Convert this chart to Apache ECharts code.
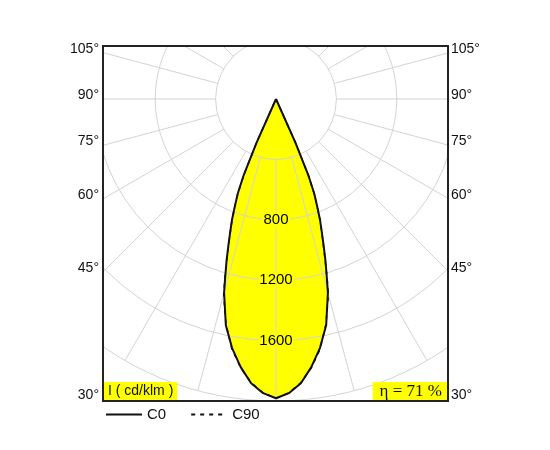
<!DOCTYPE html>
<html><head><meta charset="utf-8">
<script src="https://cdn.jsdelivr.net/npm/echarts@6/dist/echarts.min.js"></script>
<style>html,body{margin:0;padding:0;background:#fff}#c{width:550px;height:450px}</style>
</head><body><div id="c"></div>
<script>
// gamma angles (deg from nadir) for one half of the curve
const gammaAngles = [0, 2.5, 5, 7.5, 10, 12.5, 15, 16, 17, 18, 19, 20, 21, 22, 23, 24, 25];
// intensities in cd/klm
const c0Values  = [1982, 1950, 1890, 1791, 1675, 1535, 1328, 1218, 1120, 1021, 932, 853, 760, 677, 547, 318, 0];
const c90Values = [1982, 1948, 1886, 1795, 1682, 1528, 1340, 1226, 1112, 1015, 928, 850, 758, 672, 540, 312, 0];
const radiusTicks = [400, 800, 1200, 1600, 2000];
const radiusLabelTicks = [800, 1200, 1600];
const sideAngles = [105, 90, 75, 60, 45, 30];
const legendNames = ['C0', 'C90'];
const unitText = 'I ( cd/klm )';
const etaText = 'η = 71 %';

function curve(vals) {
  const pts = [];
  for (let i = gammaAngles.length - 1; i >= 0; i--) pts.push([vals[i], -gammaAngles[i]]);
  for (let i = 1; i < gammaAngles.length; i++) pts.push([vals[i], gammaAngles[i]]);
  return pts;
}

const CX = 276, CY = 99, R = 302;
const BOX = {x1: 103, y1: 46, x2: 448, y2: 401};
const FONT = '"Liberation Sans", Arial, sans-serif';
const rMin = R * radiusTicks[0] / radiusTicks[radiusTicks.length - 1];

const graphics = [
  {type: 'rect', shape: {x: 0, y: 0, width: 550, height: BOX.y1}, style: {fill: '#fff'}, z: 100, silent: true},
  {type: 'rect', shape: {x: 0, y: BOX.y2, width: 550, height: 450 - BOX.y2}, style: {fill: '#fff'}, z: 100, silent: true},
  {type: 'rect', shape: {x: 0, y: 0, width: BOX.x1, height: 450}, style: {fill: '#fff'}, z: 100, silent: true},
  {type: 'rect', shape: {x: BOX.x2, y: 0, width: 550 - BOX.x2, height: 450}, style: {fill: '#fff'}, z: 100, silent: true},
  {type: 'rect', shape: {x: BOX.x1, y: BOX.y1, width: BOX.x2 - BOX.x1, height: BOX.y2 - BOX.y1},
   style: {fill: 'none', stroke: '#222', lineWidth: 2}, z: 110, silent: true}
];
sideAngles.forEach(a => {
  const dxL = CX - BOX.x1;
  const y = CY + dxL * Math.tan((90 - a) * Math.PI / 180) - 4;
  graphics.push({type: 'text', x: BOX.x1 - 4, y: y, z: 120, silent: true,
    style: {text: a + '°', fontSize: 14, fontFamily: FONT, fill: '#111', align: 'right', verticalAlign: 'middle'}});
  graphics.push({type: 'text', x: BOX.x2 + 3, y: y, z: 120, silent: true,
    style: {text: a + '°', fontSize: 14, fontFamily: FONT, fill: '#111', align: 'left', verticalAlign: 'middle'}});
});
graphics.push({type: 'text', x: BOX.x1 + 1, y: BOX.y2 - 1, z: 120, silent: true,
  style: {text: unitText, fontSize: 14, fontFamily: FONT, fill: '#111', align: 'left', verticalAlign: 'bottom',
          backgroundColor: '#ffff00', padding: [2, 4, 2, 4]}});
graphics.push({type: 'text', x: BOX.x2 - 1, y: BOX.y2 - 1, z: 120, silent: true,
  style: {text: etaText, fontSize: 17, fontFamily: '"Liberation Serif", "DejaVu Serif", serif', fill: '#111',
          align: 'right', verticalAlign: 'bottom', backgroundColor: '#ffff00', padding: [1, 5, 0, 7]}});

const chart = echarts.init(document.getElementById('c'), null, {renderer: 'canvas'});
chart.setOption({
  animation: false,
  backgroundColor: '#fff',
  polar: [
    {center: [CX, CY], radius: [rMin, R]},
    {center: [CX, CY], radius: R}
  ],
  angleAxis: [
    {polarIndex: 0, type: 'value', min: 0, max: 360, interval: 15, startAngle: -90, z: 3,
     axisLine: {show: false}, axisTick: {show: false}, axisLabel: {show: false},
     splitLine: {show: true, lineStyle: {color: '#d4d4d4', width: 1}}},
    {polarIndex: 1, type: 'value', min: -180, max: 180, startAngle: 90, clockwise: true, show: false}
  ],
  radiusAxis: [
    {polarIndex: 0, type: 'value', min: radiusTicks[0], max: radiusTicks[radiusTicks.length - 1],
     interval: radiusTicks[1] - radiusTicks[0], z: 3,
     axisLine: {show: false}, axisTick: {show: false}, axisLabel: {show: false},
     splitLine: {show: true, lineStyle: {color: '#d4d4d4', width: 1}}},
    {polarIndex: 1, type: 'value', min: 0, max: radiusTicks[radiusTicks.length - 1], show: false}
  ],
  legend: {
    data: legendNames, left: 100, top: 402, itemWidth: 36, itemHeight: 12, itemGap: 24, z: 200,
    itemStyle: {opacity: 0},
    textStyle: {fontSize: 15, color: '#111', fontFamily: FONT}
  },
  series: [
    {name: 'fill', type: 'line', coordinateSystem: 'polar', polarIndex: 1, data: curve(c0Values),
     symbol: 'none', lineStyle: {width: 0}, areaStyle: {color: '#ffff00', opacity: 1}, z: 1, silent: true},
    {name: 'C0', type: 'line', coordinateSystem: 'polar', polarIndex: 1, data: curve(c0Values),
     symbol: 'none', lineStyle: {color: '#111', width: 2}, itemStyle: {color: '#111'}, z: 5, silent: true},
    {name: 'C90', type: 'line', coordinateSystem: 'polar', polarIndex: 1, data: curve(c90Values),
     symbol: 'none', lineStyle: {color: '#111', width: 1.5, type: [4, 5]}, itemStyle: {color: '#111'}, z: 5, silent: true},
    {name: 'ticks', type: 'scatter', coordinateSystem: 'polar', polarIndex: 1,
     data: radiusLabelTicks.map(v => [v, 0]), symbolSize: 0, z: 6, silent: true,
     itemStyle: {opacity: 1},
     label: {show: true, position: 'inside', formatter: p => String(p.value[0]),
             fontSize: 15, fontFamily: FONT, color: '#000', backgroundColor: '#ffff00', padding: [0, 1]}}
  ],
  graphic: graphics
});
</script></body></html>
